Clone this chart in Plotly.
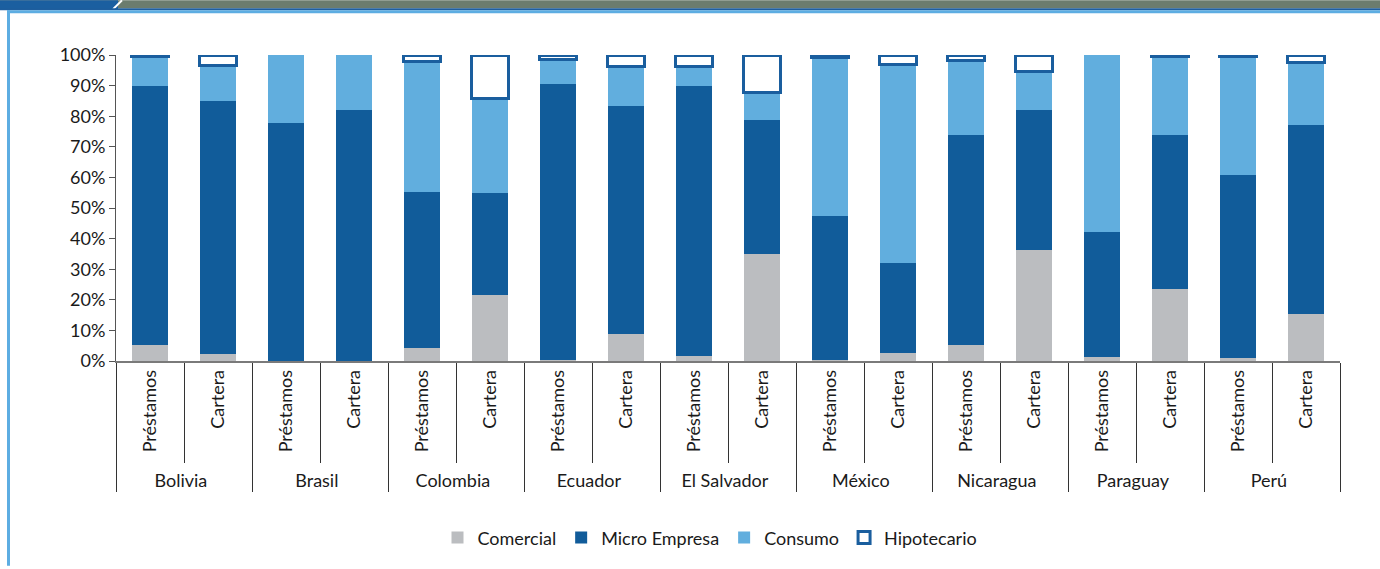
import plotly.graph_objects as go

# ---------------- data ----------------
paises = ["Bolivia", "Bolivia", "Brasil", "Brasil", "Colombia", "Colombia",
          "Ecuador", "Ecuador", "El Salvador", "El Salvador", "México", "México",
          "Nicaragua", "Nicaragua", "Paraguay", "Paraguay", "Perú", "Perú"]
tipos = ["Préstamos", "Cartera"] * 9

comercial = [5.2, 2.3, 0, 0, 4.1, 21.5, 0.4, 8.7, 1.6, 35.0, 0.2, 2.6, 5.2, 36.3, 1.2, 23.4, 0.9, 15.5]
micro_empresa = [84.8, 82.6, 77.9, 82.1, 51.2, 33.3, 90.2, 74.7, 88.3, 43.6, 47.2, 29.5, 68.8, 45.6, 41.1, 50.6, 59.8, 61.5]
consumo = [9.4, 11.6, 22.1, 17.9, 42.5, 31.1, 8.0, 12.8, 6.3, 9.2, 51.8, 64.7, 24.2, 12.7, 57.7, 25.5, 38.8, 20.7]
hipotecario = [0.6, 3.5, None, None, 2.2, 14.1, 1.4, 3.8, 3.8, 12.2, 0.8, 3.2, 1.8, 5.4, None, 0.5, 0.5, 2.3]

y_ticks = [0, 10, 20, 30, 40, 50, 60, 70, 80, 90, 100]
y_labels = [f"{v}%" for v in y_ticks]

# ---------------- styles ----------------
C_COM = "#BBBDC0"
C_MIC = "#115C9A"
C_CON = "#61AEDE"
C_HIP_LINE = "#1A5E9E"
FONT = "Lato"

W, H = 1380, 569
L, R, T, B = 116, 40, 55, 206
PW, PH = W - L - R, H - T - B

def xp(px):
    return (px - L) / PW

def yp(py):
    return (H - B - py) / PH

x = [paises, tipos]

fig = go.Figure()
fig.add_trace(go.Bar(x=x, y=comercial, name="Comercial",
                     marker=dict(color=C_COM, line=dict(width=0))))
fig.add_trace(go.Bar(x=x, y=micro_empresa, name="Micro Empresa",
                     marker=dict(color=C_MIC, line=dict(width=0))))
fig.add_trace(go.Bar(x=x, y=consumo, name="Consumo",
                     marker=dict(color=C_CON, line=dict(width=0))))
fig.add_trace(go.Bar(x=x, y=hipotecario, name="Hipotecario",
                     marker=dict(color="white", line=dict(color=C_HIP_LINE, width=3))))

shapes = [
    # top banner
    dict(type="rect", xref="paper", yref="paper", x0=xp(0), x1=xp(W), y0=yp(0), y1=yp(8),
         fillcolor="#6B7C6E", line=dict(width=0), layer="above"),
    dict(type="rect", xref="paper", yref="paper", x0=xp(0), x1=xp(118), y0=yp(0), y1=yp(9),
         fillcolor="#1B5FA0", line=dict(width=0), layer="above"),
    dict(type="line", xref="paper", yref="paper", x0=xp(113), x1=xp(122), y0=yp(9), y1=yp(0),
         line=dict(color="white", width=2), layer="above"),
    dict(type="rect", xref="paper", yref="paper", x0=xp(0), x1=xp(W), y0=yp(8), y1=yp(10),
         fillcolor="#1E5E9E", line=dict(width=0), layer="above"),
    dict(type="rect", xref="paper", yref="paper", x0=xp(7), x1=xp(W), y0=yp(10), y1=yp(13),
         fillcolor="#5DADE2", line=dict(width=0), layer="above"),
    # left border
    dict(type="rect", xref="paper", yref="paper", x0=xp(7), x1=xp(10), y0=yp(10), y1=yp(H),
         fillcolor="#5DADE2", line=dict(width=0), layer="above"),
]

fig.update_layout(
    width=W, height=H,
    margin=dict(l=L, r=R, t=T, b=B, pad=0),
    paper_bgcolor="white", plot_bgcolor="white",
    barmode="stack", bargap=0.46,
    font=dict(family=FONT, size=17, color="#1a1a1a"),
    shapes=shapes,
    legend=dict(orientation="h", x=xp(710), y=yp(541), xanchor="center", yanchor="middle",
                font=dict(family=FONT, size=18, color="#1a1a1a"),
                itemwidth=30, traceorder="normal", bgcolor="rgba(0,0,0,0)"),
    xaxis=dict(type="multicategory", showline=True, linecolor="#7a7a7a", linewidth=1.5,
               ticks="outside", ticklen=100, tickcolor="#333333", tickwidth=1,
               tickson="boundaries", tickangle=-90,
               showdividers=True, dividercolor="#333333", dividerwidth=1,
               tickfont=dict(family=FONT, size=18, color="#1a1a1a"),
               showgrid=False, zeroline=False),
    yaxis=dict(range=[0, 100], tickvals=y_ticks, ticktext=y_labels,
               showline=True, linecolor="#555555", linewidth=1,
               ticks="outside", ticklen=6, tickcolor="#555555",
               tickfont=dict(family=FONT, size=18, color="#1a1a1a"),
               showgrid=False, zeroline=False),
)

fig.write_html("out.html",
               config=dict(displayModeBar=False),
               post_script="document.body.style.margin='0';document.body.style.overflow='hidden';")
